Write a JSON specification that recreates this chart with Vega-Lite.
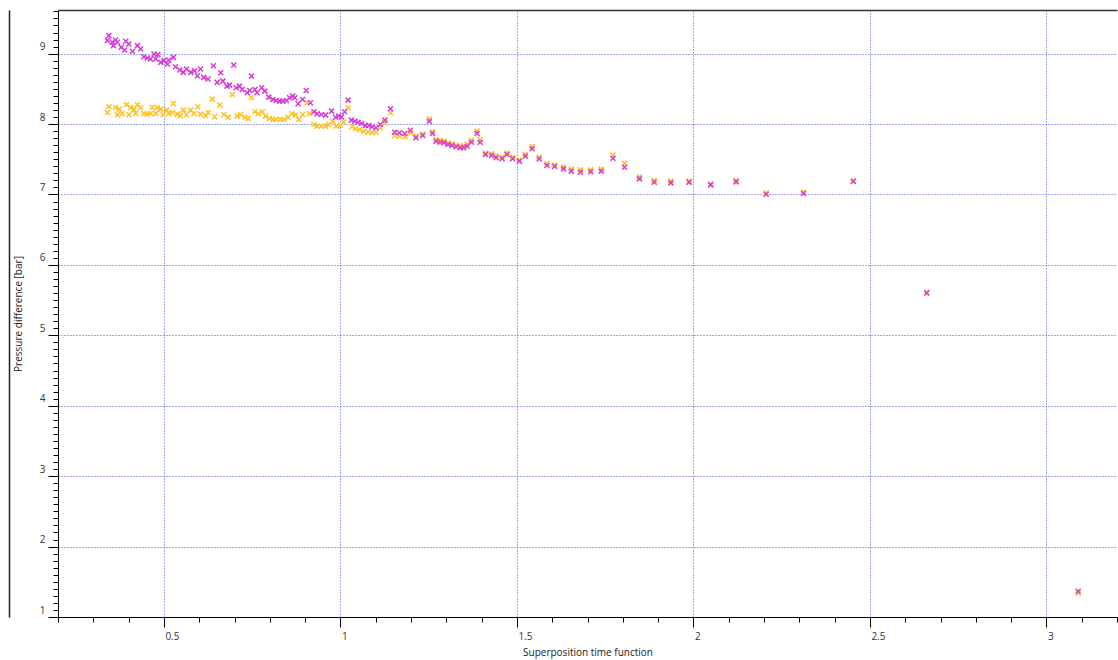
{
  "$schema": "https://vega.github.io/schema/vega-lite/v6.json",
  "width": 1059,
  "height": 607,
  "autosize": "none",
  "padding": {"left": 58, "top": 10, "right": 1, "bottom": 43},
  "background": "#ffffff",
  "config": {
    "view": {"stroke": null},
    "font": "Open Sans",
    "axis": {"labelFont": "Open Sans", "titleFont": "Open Sans"}
  },
  "datasets": {
    "pts": [
      {"series":"orange","x":0.340,"y":8.165},{"series":"orange","x":0.344,"y":8.246},{"series":"orange","x":0.363,"y":8.236},{"series":"orange","x":0.368,"y":8.132},{"series":"orange","x":0.373,"y":8.212},{"series":"orange","x":0.382,"y":8.151},{"series":"orange","x":0.394,"y":8.275},{"series":"orange","x":0.401,"y":8.132},{"series":"orange","x":0.406,"y":8.236},{"series":"orange","x":0.415,"y":8.212},{"series":"orange","x":0.420,"y":8.151},{"series":"orange","x":0.425,"y":8.275},{"series":"orange","x":0.434,"y":8.236},{"series":"orange","x":0.443,"y":8.151},{"series":"orange","x":0.453,"y":8.141},{"series":"orange","x":0.462,"y":8.151},{"series":"orange","x":0.467,"y":8.236},{"series":"orange","x":0.477,"y":8.151},{"series":"orange","x":0.481,"y":8.236},{"series":"orange","x":0.491,"y":8.212},{"series":"orange","x":0.498,"y":8.132},{"series":"orange","x":0.508,"y":8.198},{"series":"orange","x":0.514,"y":8.151},{"series":"orange","x":0.524,"y":8.165},{"series":"orange","x":0.527,"y":8.293},{"series":"orange","x":0.538,"y":8.141},{"series":"orange","x":0.547,"y":8.118},{"series":"orange","x":0.555,"y":8.198},{"series":"orange","x":0.564,"y":8.132},{"series":"orange","x":0.576,"y":8.198},{"series":"orange","x":0.585,"y":8.151},{"series":"orange","x":0.596,"y":8.246},{"series":"orange","x":0.604,"y":8.141},{"series":"orange","x":0.618,"y":8.118},{"series":"orange","x":0.625,"y":8.165},{"series":"orange","x":0.637,"y":8.354},{"series":"orange","x":0.644,"y":8.104},{"series":"orange","x":0.658,"y":8.272},{"series":"orange","x":0.670,"y":8.137},{"series":"orange","x":0.682,"y":8.098},{"series":"orange","x":0.694,"y":8.421},{"series":"orange","x":0.708,"y":8.113},{"series":"orange","x":0.717,"y":8.137},{"series":"orange","x":0.729,"y":8.098},{"series":"orange","x":0.739,"y":8.080},{"series":"orange","x":0.748,"y":8.374},{"series":"orange","x":0.758,"y":8.175},{"series":"orange","x":0.767,"y":8.147},{"series":"orange","x":0.779,"y":8.175},{"series":"orange","x":0.788,"y":8.113},{"series":"orange","x":0.799,"y":8.080},{"series":"orange","x":0.809,"y":8.066},{"series":"orange","x":0.818,"y":8.066},{"series":"orange","x":0.830,"y":8.066},{"series":"orange","x":0.840,"y":8.066},{"series":"orange","x":0.852,"y":8.098},{"series":"orange","x":0.863,"y":8.147},{"series":"orange","x":0.873,"y":8.127},{"series":"orange","x":0.882,"y":8.066},{"series":"orange","x":0.893,"y":8.137},{"series":"orange","x":0.906,"y":8.303},{"series":"orange","x":0.912,"y":8.147},{"series":"orange","x":0.925,"y":7.994},{"series":"orange","x":0.934,"y":7.970},{"series":"orange","x":0.946,"y":7.970},{"series":"orange","x":0.958,"y":7.970},{"series":"orange","x":0.967,"y":7.994},{"series":"orange","x":0.978,"y":8.041},{"series":"orange","x":0.988,"y":7.970},{"series":"orange","x":1.000,"y":7.984},{"series":"orange","x":1.009,"y":8.030},{"series":"orange","x":1.022,"y":8.232},{"series":"orange","x":1.033,"y":7.962},{"series":"orange","x":1.043,"y":7.933},{"series":"orange","x":1.054,"y":7.923},{"series":"orange","x":1.066,"y":7.899},{"series":"orange","x":1.079,"y":7.885},{"series":"orange","x":1.090,"y":7.876},{"series":"orange","x":1.101,"y":7.885},{"series":"orange","x":1.113,"y":7.947},{"series":"orange","x":1.126,"y":8.019},{"series":"orange","x":1.142,"y":8.161},{"series":"orange","x":1.154,"y":7.838},{"series":"orange","x":1.167,"y":7.828},{"series":"orange","x":1.184,"y":7.819},{"series":"orange","x":1.198,"y":7.876},{"series":"orange","x":1.214,"y":7.83},{"series":"orange","x":1.233,"y":7.86},{"series":"orange","x":1.252,"y":8.07},{"series":"orange","x":1.261,"y":7.89},{"series":"orange","x":1.271,"y":7.78},{"series":"orange","x":1.283,"y":7.77},{"series":"orange","x":1.293,"y":7.76},{"series":"orange","x":1.305,"y":7.73},{"series":"orange","x":1.316,"y":7.72},{"series":"orange","x":1.328,"y":7.70},{"series":"orange","x":1.340,"y":7.69},{"series":"orange","x":1.349,"y":7.69},{"series":"orange","x":1.359,"y":7.71},{"series":"orange","x":1.371,"y":7.77},{"series":"orange","x":1.387,"y":7.90},{"series":"orange","x":1.396,"y":7.78},{"series":"orange","x":1.411,"y":7.59},{"series":"orange","x":1.428,"y":7.58},{"series":"orange","x":1.441,"y":7.55},{"series":"orange","x":1.458,"y":7.53},{"series":"orange","x":1.472,"y":7.59},{"series":"orange","x":1.488,"y":7.53},{"series":"orange","x":1.507,"y":7.49},{"series":"orange","x":1.524,"y":7.57},{"series":"orange","x":1.543,"y":7.68},{"series":"orange","x":1.563,"y":7.53},{"series":"orange","x":1.585,"y":7.44},{"series":"orange","x":1.607,"y":7.42},{"series":"orange","x":1.632,"y":7.39},{"series":"orange","x":1.654,"y":7.36},{"series":"orange","x":1.680,"y":7.35},{"series":"orange","x":1.709,"y":7.35},{"series":"orange","x":1.739,"y":7.36},{"series":"orange","x":1.772,"y":7.56},{"series":"orange","x":1.805,"y":7.44},{"series":"orange","x":1.847,"y":7.25},{"series":"orange","x":1.889,"y":7.20},{"series":"orange","x":1.936,"y":7.19},{"series":"orange","x":1.988,"y":7.19},{"series":"orange","x":2.049,"y":7.15},{"series":"orange","x":2.121,"y":7.20},{"series":"orange","x":2.206,"y":7.02},{"series":"orange","x":2.312,"y":7.03},{"series":"orange","x":2.453,"y":7.20},{"series":"orange","x":2.661,"y":5.61},{"series":"orange","x":3.090,"y":1.34},
      {"series":"magenta","x":0.340,"y":9.185},{"series":"magenta","x":0.344,"y":9.256},{"series":"magenta","x":0.354,"y":9.161},{"series":"magenta","x":0.357,"y":9.114},{"series":"magenta","x":0.363,"y":9.194},{"series":"magenta","x":0.368,"y":9.161},{"series":"magenta","x":0.379,"y":9.090},{"series":"magenta","x":0.389,"y":9.051},{"series":"magenta","x":0.392,"y":9.175},{"series":"magenta","x":0.401,"y":9.137},{"series":"magenta","x":0.411,"y":9.033},{"series":"magenta","x":0.425,"y":9.114},{"series":"magenta","x":0.434,"y":9.066},{"series":"magenta","x":0.443,"y":8.957},{"series":"magenta","x":0.453,"y":8.938},{"series":"magenta","x":0.462,"y":8.923},{"series":"magenta","x":0.472,"y":8.994},{"series":"magenta","x":0.477,"y":8.923},{"series":"magenta","x":0.483,"y":8.986},{"series":"magenta","x":0.491,"y":8.876},{"series":"magenta","x":0.500,"y":8.901},{"series":"magenta","x":0.510,"y":8.852},{"series":"magenta","x":0.514,"y":8.909},{"series":"magenta","x":0.527,"y":8.947},{"series":"magenta","x":0.533,"y":8.815},{"series":"magenta","x":0.545,"y":8.767},{"series":"magenta","x":0.555,"y":8.734},{"series":"magenta","x":0.564,"y":8.781},{"series":"magenta","x":0.576,"y":8.734},{"series":"magenta","x":0.587,"y":8.758},{"series":"magenta","x":0.595,"y":8.687},{"series":"magenta","x":0.604,"y":8.781},{"series":"magenta","x":0.613,"y":8.663},{"series":"magenta","x":0.625,"y":8.639},{"series":"magenta","x":0.640,"y":8.829},{"series":"magenta","x":0.651,"y":8.592},{"series":"magenta","x":0.661,"y":8.730},{"series":"magenta","x":0.667,"y":8.610},{"series":"magenta","x":0.679,"y":8.539},{"series":"magenta","x":0.686,"y":8.553},{"series":"magenta","x":0.698,"y":8.838},{"series":"magenta","x":0.705,"y":8.516},{"series":"magenta","x":0.714,"y":8.539},{"series":"magenta","x":0.722,"y":8.492},{"series":"magenta","x":0.736,"y":8.445},{"series":"magenta","x":0.743,"y":8.478},{"series":"magenta","x":0.748,"y":8.681},{"series":"magenta","x":0.758,"y":8.492},{"series":"magenta","x":0.764,"y":8.445},{"series":"magenta","x":0.777,"y":8.516},{"series":"magenta","x":0.786,"y":8.468},{"series":"magenta","x":0.797,"y":8.383},{"series":"magenta","x":0.809,"y":8.350},{"series":"magenta","x":0.818,"y":8.336},{"series":"magenta","x":0.828,"y":8.326},{"series":"magenta","x":0.837,"y":8.326},{"series":"magenta","x":0.847,"y":8.336},{"series":"magenta","x":0.856,"y":8.374},{"series":"magenta","x":0.865,"y":8.397},{"series":"magenta","x":0.871,"y":8.374},{"series":"magenta","x":0.880,"y":8.289},{"series":"magenta","x":0.893,"y":8.350},{"series":"magenta","x":0.903,"y":8.478},{"series":"magenta","x":0.915,"y":8.303},{"series":"magenta","x":0.925,"y":8.175},{"series":"magenta","x":0.934,"y":8.147},{"series":"magenta","x":0.946,"y":8.137},{"series":"magenta","x":0.958,"y":8.127},{"series":"magenta","x":0.975,"y":8.184},{"series":"magenta","x":0.986,"y":8.098},{"series":"magenta","x":0.995,"y":8.115},{"series":"magenta","x":1.003,"y":8.101},{"series":"magenta","x":1.012,"y":8.175},{"series":"magenta","x":1.022,"y":8.340},{"series":"magenta","x":1.031,"y":8.056},{"series":"magenta","x":1.041,"y":8.041},{"series":"magenta","x":1.050,"y":8.027},{"series":"magenta","x":1.060,"y":8.009},{"series":"magenta","x":1.071,"y":7.980},{"series":"magenta","x":1.080,"y":7.980},{"series":"magenta","x":1.090,"y":7.962},{"series":"magenta","x":1.101,"y":7.947},{"series":"magenta","x":1.113,"y":7.994},{"series":"magenta","x":1.126,"y":8.056},{"series":"magenta","x":1.142,"y":8.218},{"series":"magenta","x":1.154,"y":7.885},{"series":"magenta","x":1.167,"y":7.876},{"series":"magenta","x":1.182,"y":7.866},{"series":"magenta","x":1.198,"y":7.913},{"series":"magenta","x":1.214,"y":7.805},{"series":"magenta","x":1.233,"y":7.838},{"series":"magenta","x":1.252,"y":8.041},{"series":"magenta","x":1.261,"y":7.866},{"series":"magenta","x":1.271,"y":7.757},{"series":"magenta","x":1.283,"y":7.743},{"series":"magenta","x":1.293,"y":7.734},{"series":"magenta","x":1.305,"y":7.710},{"series":"magenta","x":1.316,"y":7.696},{"series":"magenta","x":1.328,"y":7.677},{"series":"magenta","x":1.340,"y":7.663},{"series":"magenta","x":1.349,"y":7.663},{"series":"magenta","x":1.359,"y":7.686},{"series":"magenta","x":1.371,"y":7.743},{"series":"magenta","x":1.387,"y":7.866},{"series":"magenta","x":1.396,"y":7.743},{"series":"magenta","x":1.411,"y":7.568},{"series":"magenta","x":1.428,"y":7.553},{"series":"magenta","x":1.441,"y":7.521},{"series":"magenta","x":1.458,"y":7.507},{"series":"magenta","x":1.472,"y":7.568},{"series":"magenta","x":1.488,"y":7.507},{"series":"magenta","x":1.507,"y":7.472},{"series":"magenta","x":1.524,"y":7.544},{"series":"magenta","x":1.543,"y":7.649},{"series":"magenta","x":1.563,"y":7.504},{"series":"magenta","x":1.585,"y":7.411},{"series":"magenta","x":1.607,"y":7.397},{"series":"magenta","x":1.632,"y":7.364},{"series":"magenta","x":1.654,"y":7.330},{"series":"magenta","x":1.680,"y":7.316},{"series":"magenta","x":1.709,"y":7.322},{"series":"magenta","x":1.739,"y":7.330},{"series":"magenta","x":1.772,"y":7.514},{"series":"magenta","x":1.805,"y":7.386},{"series":"magenta","x":1.847,"y":7.222},{"series":"magenta","x":1.889,"y":7.174},{"series":"magenta","x":1.936,"y":7.165},{"series":"magenta","x":1.988,"y":7.174},{"series":"magenta","x":2.049,"y":7.137},{"series":"magenta","x":2.121,"y":7.179},{"series":"magenta","x":2.206,"y":7.003},{"series":"magenta","x":2.312,"y":7.013},{"series":"magenta","x":2.453,"y":7.184},{"series":"magenta","x":2.661,"y":5.600},{"series":"magenta","x":3.090,"y":1.366}
    ]
  },
  "data": {"name": "pts"},
  "layer": [
    {
      "mark": {"type": "point", "opacity": 0},
      "encoding": {
        "x": {"field": "x", "type": "quantitative",
          "scale": {"domain": [0.2, 3.2], "nice": false, "zero": false},
          "axis": {"orient": "top", "domain": true, "domainColor": "#333333", "domainWidth": 1.5, "ticks": false, "labels": false, "grid": false, "title": null}},
        "y": {"field": "y", "type": "quantitative",
          "scale": {"domain": [1, 9.62], "nice": false, "zero": false},
          "axis": {"orient": "left", "offset": 49, "domain": true, "domainColor": "#222222", "domainWidth": 1.5, "ticks": false, "labels": false, "grid": false, "title": null}}
      }
    },
    {
      "mark": {"type": "point", "opacity": 0},
      "encoding": {
        "x": {"field": "x", "type": "quantitative",
          "axis": {"orient": "bottom", "values": [0.2,0.3,0.4,0.6,0.7,0.8,0.9,1.1,1.2,1.3,1.4,1.6,1.7,1.8,1.9,2.1,2.2,2.3,2.4,2.6,2.7,2.8,2.9,3.1,3.2],
            "domain": false, "ticks": true, "tickSize": 5, "tickColor": "#000000", "labels": false, "grid": false, "title": null}},
        "y": {"field": "y", "type": "quantitative",
          "axis": {"orient": "left", "values": [1.1,1.2,1.3,1.4,1.5,1.6,1.7,1.8,1.9,2.1,2.2,2.3,2.4,2.5,2.6,2.7,2.8,2.9,3.1,3.2,3.3,3.4,3.5,3.6,3.7,3.8,3.9,4.1,4.2,4.3,4.4,4.5,4.6,4.7,4.8,4.9,5.1,5.2,5.3,5.4,5.5,5.6,5.7,5.8,5.9,6.1,6.2,6.3,6.4,6.5,6.6,6.7,6.8,6.9,7.1,7.2,7.3,7.4,7.5,7.6,7.7,7.8,7.9,8.1,8.2,8.3,8.4,8.5,8.6,8.7,8.8,8.9,9.1,9.2,9.3,9.4,9.5,9.6],
            "domain": false, "ticks": true, "tickSize": 5, "tickColor": "#000000", "labels": false, "grid": false, "title": null}}
      }
    },
    {
      "mark": {"type": "point", "shape": "M-1,-1L1,1M-1,1L1,-1", "filled": false, "size": 25, "strokeWidth": 1.5, "opacity": 1},
      "encoding": {
        "x": {"field": "x", "type": "quantitative",
          "axis": {"orient": "bottom", "values": [0.5,1,1.5,2,2.5,3], "format": "~g",
            "domain": true, "domainColor": "#000000", "ticks": true, "tickSize": 10, "tickColor": "#000000",
            "grid": true, "gridColor": "#3a4ef0", "gridDash": [1,2], "gridWidth": 1,
            "labelAlign": "left", "labelOffset": 1, "labelPadding": 4, "labelFontSize": 10, "labelColor": "#333333", "labelFlush": false,
            "title": "Superposition time function", "titleFontSize": 10, "titleFontWeight": "normal", "titleColor": "#222222", "titlePadding": 6}},
        "y": {"field": "y", "type": "quantitative",
          "axis": {"orient": "left", "values": [1,2,3,4,5,6,7,8,9], "format": "~g",
            "domain": true, "domainColor": "#000000", "ticks": true, "tickSize": 10, "tickColor": "#000000",
            "grid": true, "gridColor": "#3a4ef0", "gridDash": [1,2], "gridWidth": 1,
            "labelBaseline": "bottom", "labelOffset": -2, "labelPadding": 3, "labelFontSize": 10, "labelColor": "#333333", "labelFlush": false,
            "title": "Pressure difference [bar]", "titleFontSize": 10, "titleFontWeight": "normal", "titleColor": "#222222", "titlePadding": 16}},
        "color": {"field": "series", "type": "nominal",
          "scale": {"domain": ["orange", "magenta"], "range": ["#ffc020", "#d83ad8"]},
          "legend": null}
      }
    }
  ],
  "resolve": {"axis": {"x": "independent", "y": "independent"}}
}
